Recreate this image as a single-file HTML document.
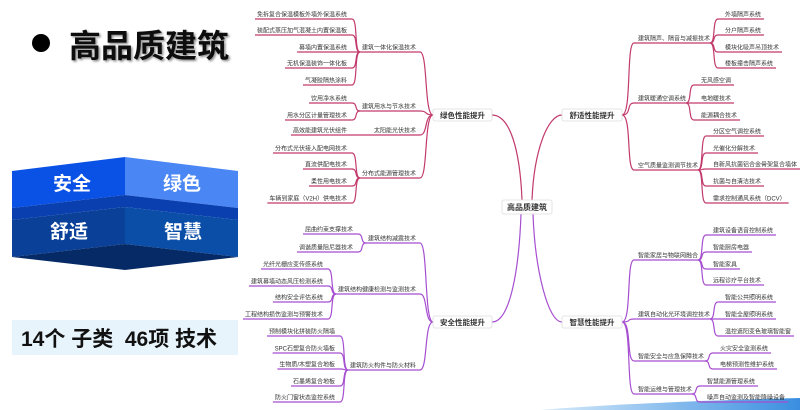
<!DOCTYPE html>
<html><head><meta charset="utf-8"><style>
html,body{margin:0;padding:0;background:#fff;width:800px;height:410px;overflow:hidden}
svg{display:block}
text{font-family:"Liberation Sans","Noto Sans CJK SC",sans-serif}
</style></head><body>
<svg id="s" width="800" height="410" viewBox="0 0 800 410" xmlns="http://www.w3.org/2000/svg">
<defs>
<filter id="sh" x="-10%" y="-10%" width="130%" height="140%"><feDropShadow dx="1.5" dy="1.5" stdDeviation="1" flood-color="#000" flood-opacity="0.45"/></filter>
<linearGradient id="sw" x1="0" x2="1"><stop offset="0" stop-color="#d8ecfb"/><stop offset="1" stop-color="#3a8ee0"/></linearGradient>
</defs>
<circle cx="41" cy="43" r="9" fill="#000"/>
<text x="69" y="57" font-size="32" font-weight="bold" fill="#111" filter="url(#sh)">高品质建筑</text>
<polygon points="12,171 125,157 125,195 12,208" fill="#0a52e6"/>
<polygon points="125,157 238,171 238,208 125,195" fill="#4a86f4"/>
<polygon points="12,208 125,195 238,208 238,220 125,207 12,220" fill="#0a3fb0"/>
<polygon points="12,220 125,207 125,244 12,257" fill="#0a4098"/>
<polygon points="125,207 238,220 238,257 125,244" fill="#0b4ea8"/>
<polygon points="12,257 125,244 238,257 125,270" fill="#062a66"/>
<text x="53" y="190" font-size="19" font-weight="bold" fill="#fff">安全</text>
<text x="163" y="190" font-size="19" font-weight="bold" fill="#fff">绿色</text>
<text x="50" y="238" font-size="19" font-weight="bold" fill="#fff">舒适</text>
<text x="164" y="238" font-size="19" font-weight="bold" fill="#fff">智慧</text>
<rect x="12" y="320" width="226" height="35" fill="#e8f4fb"/>
<text x="21" y="346" font-size="21" font-weight="bold" fill="#111">14个 子类&#160;&#160;46项 技术</text>
<path d="M540 410 Q640 402 800 398 L800 410 Z" fill="url(#sw)"/>
<g id="mm"></g>
</svg>
<script>
const NS="http://www.w3.org/2000/svg",g=document.getElementById('mm');
const FS=6;
function el(t,a,txt){const e=document.createElementNS(NS,t);for(const k in a)e.setAttribute(k,a[k]);if(txt!=null)e.textContent=txt;g.appendChild(e);return e;}
function txt(x,y,s,anchor,fs,bold){return el('text',{x:x,y:y,'font-size':fs||FS,'text-anchor':anchor,fill:'#333','font-weight':bold?'bold':'normal'},s);}
function line(d,c){el('path',{d:d,fill:'none',stroke:c,'stroke-width':1.2});}
function left(c,nx,ny,subs){
 subs.forEach(s=>{const sy=s.y+5;
  line(`M${s.bx+8} ${sy} L420 ${sy} C428 ${sy},424 ${ny},${nx} ${ny}`,c);
  txt(416,s.y+2.5,s.label,'end');
  s.leaves.forEach(l=>{const ly=l[1]+5;const t=txt(s.bx-5,l[1]+2.5,l[0],'end');const w=t.getComputedTextLength();
   line(`M${s.bx-7-w} ${ly} L${s.bx} ${ly} C${s.bx+6} ${ly},${s.bx+2} ${sy},${s.bx+8} ${sy}`,c);});
 });
}
function right(c,nx,ny,subs){
 subs.forEach(s=>{const sy=s.y+5;
  line(`M${nx} ${ny} C${nx+10} ${ny},${nx+4} ${sy},${634} ${sy} L${s.bx-8} ${sy}`,c);
  txt(638,s.y+2.5,s.label,'start');
  s.leaves.forEach(l=>{const ly=l[1]+5;const t=txt(s.lx,l[1]+2.5,l[0],'start');const w=t.getComputedTextLength();
   line(`M${s.bx-8} ${sy} C${s.bx-2} ${sy},${s.bx-6} ${ly},${s.bx} ${ly} L${s.lx+w+3} ${ly}`,c);});
 });
}
const P='#c23a6c',V='#a64ed0';
line('M522 200 C520 150,510 115,492 115',P);
line('M532 200 C534 150,548 115,562 115',P);
line('M521 214 C519 270,510 322,492 322',V);
line('M533 214 C535 270,548 322,562 322',V);
left(P,433,115,[
 {label:'建筑一体化保温技术',y:47,bx:352,leaves:[['免拆复合保温模板外墙外保温系统',14],['装配式蒸压加气混凝土内置保温板',30],['幕墙内置保温系统',47],['无机保温装饰一体化板',63],['气凝胶隔热涂料',80]]},
 {label:'建筑用水与节水技术',y:106,bx:352,leaves:[['饮用净水系统',98],['用水分区计量管理技术',115]]},
 {label:'太阳能光伏技术',y:130,bx:352,leaves:[['高效能建筑光伏组件',130]]},
 {label:'分布式能源管理技术',y:173,bx:352,leaves:[['分布式光伏接入配电网技术',148],['直流供配电技术',164],['柔性用电技术',181],['车辆到家庭（V2H）供电技术',198]]}
]);
left(V,433,322,[
 {label:'建筑结构减震技术',y:238,bx:358,leaves:[['屈曲约束支撑技术',229],['调谐质量阻尼器技术',247]]},
 {label:'建筑结构健康检测与监测技术',y:289,bx:328,leaves:[['光纤光栅应变传感系统',264],['建筑幕墙动态风压检测系统',281],['结构安全评估系统',297],['工程结构损伤监测与预警技术',314]]},
 {label:'建筑防火构件与防火材料',y:365,bx:340,leaves:[['预制模块化拼装防火隔墙',331],['SPC石塑复合防火墙板',348],['生物质/木塑复合地板',364],['石墨烯复合地板',381],['防火门窗状态监控系统',397]]}
]);
right(P,622,115,[
 {label:'建筑隔声、隔音与减振技术',y:38,bx:718,lx:725,leaves:[['外墙隔声系统',14],['分户隔声系统',30],['模块化吸声吊顶技术',47],['楼板撞击隔声系统',63]]},
 {label:'建筑暖通空调系统',y:98,bx:694,lx:701,leaves:[['无风感空调',80],['电地暖技术',98],['能源耦合技术',115]]},
 {label:'空气质量监测调节技术',y:165,bx:706,lx:713,leaves:[['分区空气调控系统',131],['光催化分解技术',148],['自新风抗菌铝合金骨架复合墙体',164],['抗菌与自清洁技术',181],['需求控制通风系统（DCV）',198]]}
]);
right(V,622,322,[
 {label:'智能家居与物联网融合',y:255,bx:706,lx:713,leaves:[['建筑设备语音控制系统',230],['智能厨房电器',247],['智能家具',264],['远程诊疗平台技术',280]]},
 {label:'建筑自动化光环境调控技术',y:314,bx:718,lx:725,leaves:[['智能公共照明系统',297],['智能全屋照明系统',314],['温控遮阳变色玻璃智能窗',331]]},
 {label:'智能安全与应急保障技术',y:356,bx:713,lx:720,leaves:[['火灾安全监测系统',348],['电梯预测性维护系统',364]]},
 {label:'智能运维与管理技术',y:389,bx:700,lx:707,leaves:[['智慧能源管理系统',381],['噪声自动监测及智能降噪设备',397]]}
]);
function node(x,y,w,h,s,fs){el('rect',{x:x,y:y,width:w,height:h,rx:2,fill:'#fff',stroke:'#ddd','stroke-width':0.8});txt(x+w/2,y+h/2+3,s,'middle',fs,true);}
node(433,109,59,12,'绿色性能提升',7.5);
node(562,109,60,12,'舒适性能提升',7.5);
node(433,316,59,12,'安全性能提升',7.5);
node(562,316,60,12,'智慧性能提升',7.5);
node(502,200,50,14,'高品质建筑',8);
</script>
</body></html>
